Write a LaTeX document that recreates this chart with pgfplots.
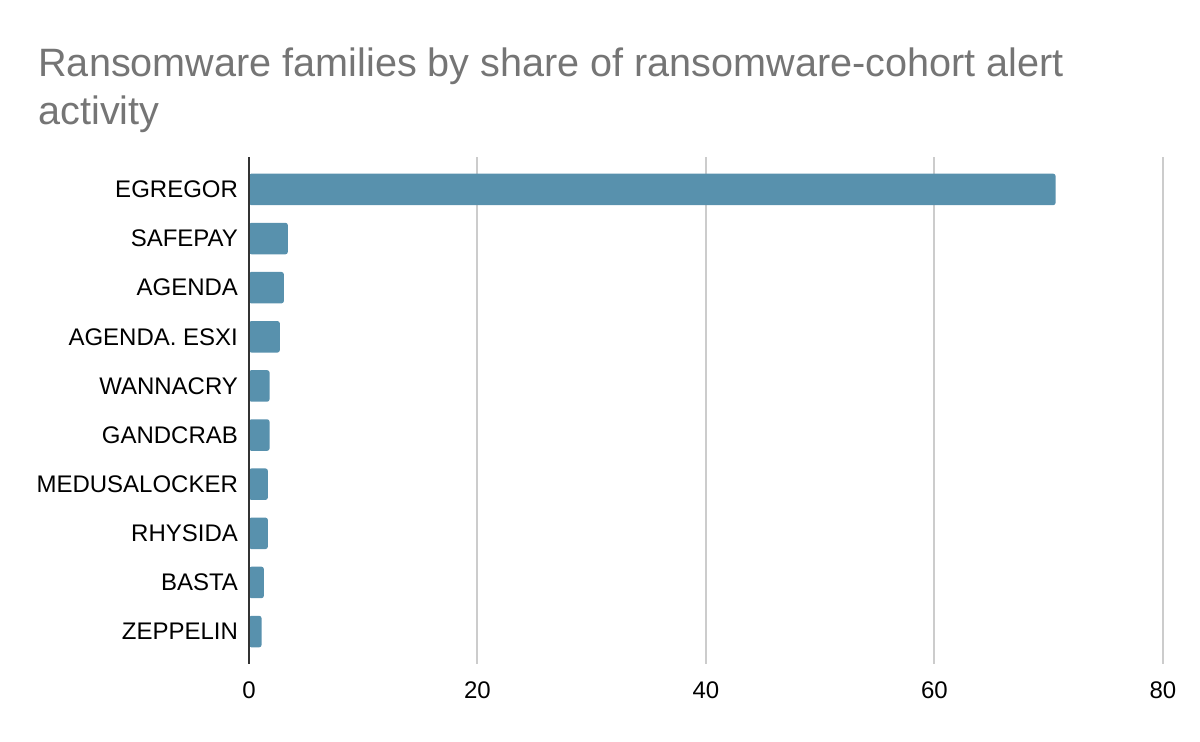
\documentclass[border=0pt]{standalone}
\usepackage{pgfplots}
\pgfplotsset{compat=1.18}
\usepackage{fontspec}
\setmainfont{Liberation Sans}
\definecolor{barblue}{HTML}{5891AD}
\definecolor{titlegray}{HTML}{757575}
\definecolor{gridgray}{HTML}{CCCCCC}
\definecolor{axisdark}{HTML}{333333}

\pgfplotstableread{
idx value
0 70.6
1 3.4
2 3.05
3 2.7
4 1.8
5 1.8
6 1.65
7 1.65
8 1.3
9 1.1
}\familydata

\begin{document}
\begin{tikzpicture}
% page frame: 1200x742 px at 0.5pt per px
\path[use as bounding box] (0,0) rectangle (600pt,371pt);
\node[anchor=base west, text=titlegray, font=\fontsize{19.8}{24}\selectfont, inner sep=0pt]
  at (19pt,332.5pt) {Ransomware families by share of ransomware-cohort alert};
\node[anchor=base west, text=titlegray, font=\fontsize{19.8}{24}\selectfont, inner sep=0pt]
  at (19pt,308.5pt) {activity};
\begin{axis}[
    at={(124.5pt,39pt)},
    anchor=south west,
    scale only axis,
    width=457pt,
    height=253.5pt,
    xbar,
    bar width=15.75pt,
    y dir=reverse,
    xmin=0, xmax=80,
    ymin=-0.66, ymax=9.66,
    xtick={0,20,40,60,80},
    ytick={0,...,9},
    yticklabels={EGREGOR,SAFEPAY,AGENDA,AGENDA. ESXI,WANNACRY,GANDCRAB,MEDUSALOCKER,RHYSIDA,BASTA,ZEPPELIN},
    xmajorgrids=true,
    grid style={gridgray, line width=1pt},
    axis line style={draw=none},
    tick style={draw=none},
    major tick length=0pt,
    ticklabel style={font=\fontsize{12}{14}\selectfont, text=black},
    /pgf/number format/assume math mode=true,
    xticklabel style={yshift=-5.5pt},
    yticklabel style={xshift=-2pt},
    clip=false,
]
\addplot[fill=barblue, draw=none, rounded corners=1.2pt] table[x=value, y=idx] {\familydata};
\addplot[axisdark, line width=1pt, xbar=0pt, sharp plot, forget plot] coordinates {(0,-0.66) (0,9.66)};
\end{axis}
\end{tikzpicture}
\end{document}
